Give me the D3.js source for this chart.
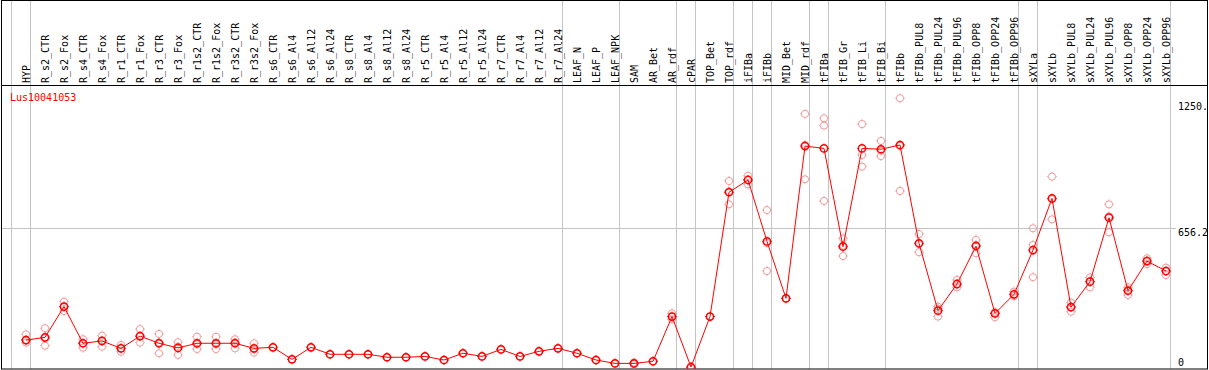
<!DOCTYPE html>
<html>
<head>
<meta charset="utf-8">
<script src="https://cdn.jsdelivr.net/npm/d3@7"></script>
<style>
  body { margin: 0; background: #fff; }
  text { font-family: "DejaVu Sans Mono", monospace; font-size: 10px; }
</style>
</head>
<body>
<svg id="canvas"></svg>
<script>
const samples = [
  "HYP", "R_s2_CTR", "R_s2_Fox", "R_s4_CTR", "R_s4_Fox", "R_r1_CTR", "R_r1_Fox",
  "R_r3_CTR", "R_r3_Fox", "R_r1s2_CTR", "R_r1s2_Fox", "R_r3s2_CTR", "R_r3s2_Fox",
  "R_s6_CTR", "R_s6_Al4", "R_s6_Al12", "R_s6_Al24", "R_s8_CTR", "R_s8_Al4", "R_s8_Al12",
  "R_s8_Al24", "R_r5_CTR", "R_r5_Al4", "R_r5_Al12", "R_r5_Al24", "R_r7_CTR", "R_r7_Al4",
  "R_r7_Al12", "R_r7_Al24", "LEAF_N", "LEAF_P", "LEAF_NPK", "SAM", "AR_Bet", "AR_rdf",
  "cPAR", "TOP_Bet", "TOP_rdf", "iFIBa", "iFIBb", "MID_Bet", "MID_rdf", "tFIBa",
  "tFIB_Gr", "tFIB_Li", "tFIB_Bi", "tFIBb", "tFIBb_PUL8", "tFIBb_PUL24", "tFIBb_PUL96",
  "tFIBb_OPP8", "tFIBb_OPP24", "tFIBb_OPP96", "sXYLa", "sXYLb", "sXYLb_PUL8",
  "sXYLb_PUL24", "sXYLb_PUL96", "sXYLb_OPP8", "sXYLb_OPP24", "sXYLb_OPP96"
];

const means = [
  127, 140, 285, 112, 123, 88, 146, 112, 90, 112, 112, 112, 88,
  93, 36, 93, 60, 60, 60, 46, 46, 50, 33, 65, 50, 83, 50, 74, 88,
  65, 33, 17, 17, 27, 238, 0, 238, 825, 883, 593, 324, 1043, 1032,
  568, 1032, 1028, 1048, 584, 266, 392, 571, 253, 343, 552, 796, 283,
  403, 705, 360, 500, 453
];

const replicates = [
  [154, 127, 115], [183, 136, 101], [308, 285, 264], [131, 112, 91], [148, 125, 96],
  [104, 88, 72], [179, 144, 115], [156, 115, 65], [117, 96, 57], [143, 108, 85],
  [143, 108, 85], [131, 117, 88], [112, 84, 68],
  [93], [36], [93], [60], [60], [60], [46], [46], [50], [33], [65], [50], [83], [50],
  [74], [88], [65], [33], [17], [21, 17, 13], [27], [253, 238, 225], [0, 0], [238],
  [878, 829, 768], [903, 884, 862], [741, 585, 453], [324], [1195, 1048, 886],
  [1174, 1140, 784], [607, 573, 524], [1147, 1001, 946], [1067, 1021, 996],
  [1269, 1044, 831], [628, 582, 542], [285, 275, 238], [411, 389, 376],
  [600, 576, 537], [258, 253, 235], [356, 343, 335], [655, 576, 424],
  [899, 792, 697], [304, 283, 261], [423, 403, 376], [768, 711, 636],
  [376, 364, 340], [513, 501, 486], [469, 453, 434]
];

// group separators come after these samples
const groupEnds = ["HYP", "R_r7_Al24", "LEAF_NPK", "AR_rdf", "cPAR", "TOP_rdf", "iFIBa",
  "iFIBb", "MID_rdf", "tFIBa", "tFIB_Bi", "tFIBb_OPP96", "sXYLa", "sXYLb_OPP96"];

const tickValues = [1250, 656.2, 0];
const tickLabels = ["1250.", "656.2", "0"];
const geneName = "Lus10041053";

const width = 1209, height = 370;
const svg = d3.select("#canvas").attr("width", width).attr("height", height);

const x = d3.scalePoint().domain(samples).range([26, 1166]);
const y = d3.scaleLinear().domain([0, 1312.4]).range([367, 89]);

const grey = "#c4c4c4";

// vertical group lines
svg.append("g")
  .selectAll("line")
  .data(["__start"].concat(groupEnds))
  .enter()
  .append("line")
  .attr("x1", d => d === "__start" ? 11.5 : Math.round(x(d) + 4) + 0.5)
  .attr("x2", d => d === "__start" ? 11.5 : Math.round(x(d) + 4) + 0.5)
  .attr("y1", 0)
  .attr("y2", 369)
  .attr("stroke", grey);

// horizontal mid gridline
svg.append("line")
  .attr("x1", 1).attr("x2", 1176)
  .attr("y1", Math.round(y(656.2)) + 0.5)
  .attr("y2", Math.round(y(656.2)) + 0.5)
  .attr("stroke", grey);

// frame
svg.append("rect")
  .attr("x", 1.5).attr("y", 0.5)
  .attr("width", 1206).attr("height", 368.5)
  .attr("fill", "none").attr("stroke", "#000");
svg.append("line")
  .attr("x1", 1).attr("x2", 1208)
  .attr("y1", 85.5).attr("y2", 85.5)
  .attr("stroke", "#000");

// rotated sample labels
svg.append("g")
  .selectAll("text")
  .data(samples)
  .enter()
  .append("text")
  .attr("transform", d => "translate(" + (x(d) + 4) + ",83) rotate(-90)")
  .attr("fill", "#000")
  .text(d => d);

// right axis labels
svg.append("g")
  .selectAll("text")
  .data(tickValues)
  .enter()
  .append("text")
  .attr("x", 1178)
  .attr("y", (d, i) => d === 0 ? y(d) - 1 : y(d) + 8)
  .attr("fill", "#000")
  .text((d, i) => tickLabels[i]);

svg.append("text")
  .attr("x", 10).attr("y", 101)
  .attr("fill", "#ff0000")
  .text(geneName);

svg.append("clipPath").attr("id", "plotclip")
  .append("rect").attr("x", 2).attr("y", 86).attr("width", 1205).attr("height", 283);

const plot = svg.append("g").attr("clip-path", "url(#plotclip)");

const marker = (g, cx, cy, color, sw) => {
  const m = g.append("g").attr("transform", "translate(" + cx + "," + cy + ")");
  m.append("circle").attr("r", 3.6).attr("fill", "none")
    .attr("stroke", color).attr("stroke-width", sw);
  [[0, -1], [0, 1], [-1, 0], [1, 0]].forEach(([dx, dy]) => {
    m.append("line")
      .attr("x1", dx * 4).attr("y1", dy * 4)
      .attr("x2", dx * 5).attr("y2", dy * 5)
      .attr("stroke", color).attr("stroke-width", 0.8);
  });
};

// replicates
const repPoints = [];
samples.forEach((s, i) => replicates[i].forEach(v => repPoints.push({ s, v })));
const repG = plot.append("g");
repPoints.forEach(p => marker(repG, x(p.s), y(p.v), "#ef9a9a", 1));

// mean line
const line = d3.line()
  .x((d, i) => x(samples[i]))
  .y(d => y(d));
plot.append("path")
  .datum(means)
  .attr("d", line)
  .attr("fill", "none")
  .attr("stroke", "#ff0000")
  .attr("stroke-width", 1);

const meanG = plot.append("g");
means.forEach((v, i) => marker(meanG, x(samples[i]), y(v), "#ff0000", 1.5));
</script>
</body>
</html>
